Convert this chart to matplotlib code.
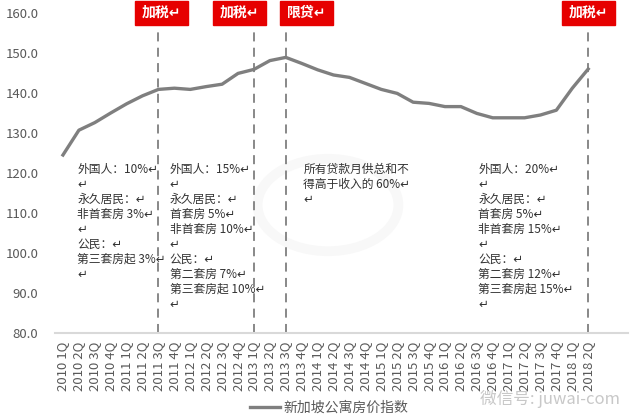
import matplotlib.pyplot as plt
import matplotlib.patches as mpatches
import numpy as np

plt.rcParams['font.family'] = ['Noto Sans CJK SC', 'DejaVu Sans']

quarters = ['2010 1Q', '2010 2Q', '2010 3Q', '2010 4Q',
            '2011 1Q', '2011 2Q', '2011 3Q', '2011 4Q',
            '2012 1Q', '2012 2Q', '2012 3Q', '2012 4Q',
            '2013 1Q', '2013 2Q', '2013 3Q', '2013 4Q',
            '2014 1Q', '2014 2Q', '2014 3Q', '2014 4Q',
            '2015 1Q', '2015 2Q', '2015 3Q', '2015 4Q',
            '2016 1Q', '2016 2Q', '2016 3Q', '2016 4Q',
            '2017 1Q', '2017 2Q', '2017 3Q', '2017 4Q',
            '2018 1Q', '2018 2Q']
index = [124.5, 130.7, 132.6, 135.0, 137.3, 139.3, 140.9, 141.2,
         140.9, 141.6, 142.2, 144.9, 145.9, 148.1, 148.9, 147.4,
         145.8, 144.5, 143.9, 142.4, 140.9, 139.9, 137.7, 137.4,
         136.6, 136.6, 134.9, 133.8, 133.8, 133.8, 134.5, 135.7,
         141.2, 146.0]
series_name = '新加坡公寓房价指数'

# policy events: quarter, label
events = ['2011 3Q', '2013 1Q', '2013 3Q', '2018 2Q']
event_labels = ['加税', '加税', '限贷', '加税']

notes = [
    '外国人：10%↵\n↵\n永久居民：↵\n非首套房 3%↵\n↵\n公民：↵\n第三套房起 3%↵\n↵',
    '外国人：15%↵\n↵\n永久居民：↵\n首套房 5%↵\n非首套房 10%↵\n↵\n公民：↵\n第二套房 7%↵\n第三套房起 10%↵\n↵',
    '所有贷款月供总和不\n得高于收入的 60%↵\n↵',
    '外国人：20%↵\n↵\n永久居民：↵\n首套房 5%↵\n非首套房 15%↵\n↵\n公民：↵\n第二套房 12%↵\n第三套房起 15%↵\n↵',
]
note_x = [0.9, 6.7, 15.1, 26.1]

fig = plt.figure(figsize=(6.4, 4.2), dpi=100)
ax = fig.add_axes([55 / 640, 87 / 420, 573 / 640, 320 / 420])

# faint watermark ring behind everything
ring = mpatches.Circle((328 / 640, 1 - 205 / 420), 0.11, transform=fig.transFigure,
                       fill=False, lw=7, color='#f8f8f8', zorder=0.5)
ax.add_patch(ring)

x = np.arange(len(quarters))
ax.plot(x, index, color='#7f7f7f', lw=2.4, label=series_name, zorder=3)

for q in events:
    ax.axvline(quarters.index(q), ymin=0, ymax=0.94, color='#7f7f7f', lw=1.3,
               linestyle=(0, (5, 3.5)), zorder=2)

box_cx = [161.5, 239.5, 306.5, 588.5]
for cx, lab in zip(box_cx, event_labels):
    fig.patches.append(mpatches.Rectangle(((cx - 26.5) / 640, 1 - 25 / 420), 53 / 640, 24 / 420,
                                          transform=fig.transFigure, color='#e60000', zorder=5))
    fig.text(cx / 640, 1 - 12.5 / 420, lab + '↵', color='white', fontsize=10, fontweight='bold',
             ha='center', va='center', zorder=7)

for nx, txt in zip(note_x, notes):
    ax.text(nx, 122.5, txt, fontsize=8.5, color='#333333', va='top', ha='left',
            linespacing=1.2, zorder=4)

ax.set_xlim(-0.5, 35.5)
ax.set_ylim(80, 160)
ax.set_yticks(np.arange(80, 161, 10))
ax.set_yticklabels(['%.1f' % v for v in np.arange(80, 161, 10)])
ax.set_xticks(x)
ax.set_xticklabels(quarters, rotation=90)
ax.tick_params(axis='both', length=0, colors='#595959')
ax.tick_params(axis='x', pad=6, labelsize=9.5)
ax.tick_params(axis='y', pad=12, labelsize=9.5)
for s in ['top', 'right', 'left']:
    ax.spines[s].set_visible(False)
ax.spines['bottom'].set_color('#d9d9d9')
ax.spines['bottom'].set_linewidth(1.5)

fig.legend(loc='center', bbox_to_anchor=(329 / 640, 1 - 408 / 420), frameon=False,
           fontsize=10, labelcolor='#595959', handlelength=2.2, handletextpad=0.2)

fig.text(620 / 640, 1 - 399 / 420, '微信号: juwai-com', color='#c8c8c8', fontsize=12,
         ha='right', va='center')

fig.savefig('out.png', dpi=100)
